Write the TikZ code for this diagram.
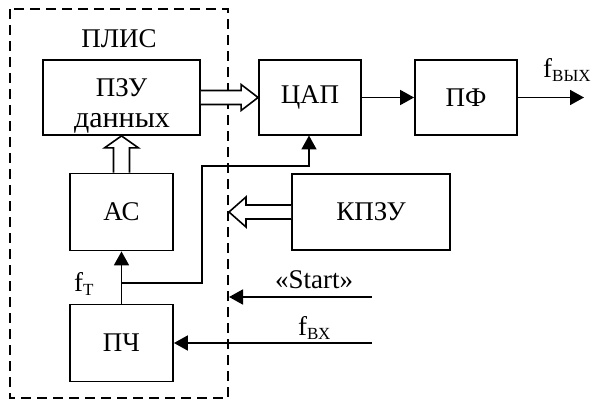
\documentclass[tikz,border=0pt]{standalone}
\usepackage{fontspec}
\setmainfont{Liberation Serif}
\usetikzlibrary{arrows.meta,calc}
\newcommand{\bigf}{\fontsize{27}{30}\selectfont}
\newcommand{\lowf}{\fontsize{30}{33}\selectfont}
\newcommand{\smallf}{\fontsize{17}{20}\selectfont}
\begin{document}
\begin{tikzpicture}[x=1pt,y=-1pt,
  every node/.style={font=\bigf},
  blk/.style={draw, line width=1.8pt, inner sep=0pt},
  conn/.style={line width=1.8pt},
  arr/.style={conn, -{Triangle[length=14pt,width=15pt]}},
  hollow/.style={draw, line width=1.6pt, fill=white, line join=miter},
  lbl/.style={inner sep=0pt}
]
\useasboundingbox (0,0) rectangle (592,401);
% dashed FPGA border
\draw[line width=1.8pt, dash pattern=on 10pt off 6pt] (10,9) rectangle (228,398);
\node[lbl, anchor=base] (plis) at (119,48) {ПЛИС};
% blocks
\node[blk, minimum width=157pt, minimum height=75pt] (pzu) at (121.5,97.5) {};
\node[lbl, anchor=base] (pzu1) at (121.5,97) {ПЗУ};
\node[lbl, anchor=base, font=\lowf] (pzu2) at (122,128) {данных};
\node[blk, minimum width=102pt, minimum height=75pt] (cap) at (310,97.5) {ЦАП};
\node[blk, minimum width=102pt, minimum height=75pt] (pf) at (466,97.5) {ПФ};
\node[blk, minimum width=103pt, minimum height=77pt] (ac) at (121.5,212) {АС};
\node[blk, minimum width=103pt, minimum height=77pt] (pch) at (121.5,343) {ПЧ};
\node[blk, minimum width=158pt, minimum height=76pt] (kpzu) at (371,212) {КПЗУ};
% hollow arrows
\draw[hollow] ($(pzu.east)+(0,-7)$) -- ($(cap.west)+(-17,-7)$) -- ($(cap.west)+(-17,-13)$) -- (cap.west)
  -- ($(cap.west)+(-17,13)$) -- ($(cap.west)+(-17,7)$) -- ($(pzu.east)+(0,7)$);
\draw[hollow] ($(ac.north)+(-8,0)$) -- ($(pzu.south)+(-8,12)$) -- ($(pzu.south)+(-17,12)$) -- (pzu.south)
  -- ($(pzu.south)+(17,12)$) -- ($(pzu.south)+(8,12)$) -- ($(ac.north)+(8,0)$);
\coordinate (kin) at (229,212);
\draw[hollow] ($(kpzu.west)+(0,-7)$) -- ($(kin)+(17,-7)$) -- ($(kin)+(17,-15)$) -- (kin)
  -- ($(kin)+(17,15)$) -- ($(kin)+(17,7)$) -- ($(kpzu.west)+(0,7)$);
% signal arrows
\draw[arr] (cap.east) -- (pf.west);
\coordinate (out) at (584,97.5);
\draw[arr] (pf.east) -- (out);
\node[lbl, anchor=base west] (fout) at (543,78) {f\raisebox{-4pt}{\smallf ВЫХ}};
\draw[arr] (pch.north) -- (ac.south);
\coordinate (jn) at (122,283);
\draw[arr] (jn) -- (202,283) -- (202,166) -- (309,166) -- (309,135.5);
\node[lbl, anchor=base west] (ft) at (74,291) {f\raisebox{-4pt}{\smallf Т}};
\coordinate (st0) at (372,297);
\coordinate (st1) at (229,297);
\draw[arr] (st0) -- (st1);
\node[lbl, anchor=base] (start) at (314,288) {«Start»};
\coordinate (fin) at (372,343);
\draw[arr] (fin) -- (pch.east);
\node[lbl, anchor=base west] (fvx) at (298,335) {f\raisebox{-4pt}{\smallf ВХ}};
\end{tikzpicture}
\end{document}
